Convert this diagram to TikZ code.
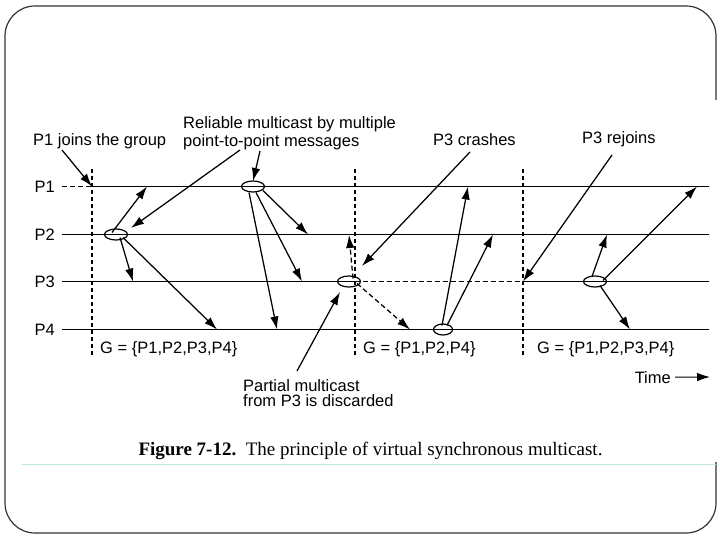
\documentclass[tikz,border=0pt]{standalone}
\usepackage{fontspec}
\setmainfont{Liberation Sans}
\newfontfamily\captionserif{Liberation Serif}
\usepackage{tikz}
\usetikzlibrary{arrows.meta, shapes.geometric, calc}
\definecolor{vsInk}{HTML}{000000}
\definecolor{vsFrame}{HTML}{333333}
\definecolor{vsRule}{HTML}{BFE6DD}
\tikzset{
  vs-proc/.style={line width=1.6pt, draw=vsInk},
  vs-proc-down/.style={line width=1.3pt, draw=vsInk, dash pattern=on 5pt off 3pt},
  vs-view/.style={line width=1.1pt, draw=vsInk, dash pattern=on 4pt off 3pt},
  vs-event/.style={
    ellipse, draw=vsInk, line width=1.2pt, minimum width=23pt,
    minimum height=11pt, inner sep=0pt
  },
  vs-msg/.style={-{Latex[length=13pt,width=8.5pt]}, line width=1.25pt, draw=vsInk},
  vs-msg-lost/.style={vs-msg, dash pattern=on 5pt off 3pt},
  vs-label/.style={font=\fontsize{16.5}{18}\selectfont, inner sep=0pt, text=vsInk},
}

\begin{document}
\begin{tikzpicture}[x=1pt, y=-1pt]
  \useasboundingbox (0,0) rectangle (720,540);

  % slide frame
  \draw[vsFrame, line width=1.2pt, rounded corners=30pt] (5,6) rectangle (716,533);
  \fill[white] (711,100) rectangle (720,462);
  \draw[vsRule, line width=1pt] (22,464) -- (716,464);

  % processes
  \foreach \i/\y in {1/186.5, 2/234.5, 3/281.5, 4/329.5} {
    \node[vs-label, anchor=east] (p\i) at (55,\y) {P\i};
    \coordinate (p\i-start) at (62,\y);
    \coordinate (p\i-end)   at (709,\y);
  }
  \coordinate (join)   at (92,186.5);
  \coordinate (crash)  at (355,281.5);
  \coordinate (rejoin) at (523,281.5);

  \draw[vs-proc-down] (p1-start) -- (join);
  \draw[vs-proc]      (join) -- (p1-end);
  \draw[vs-proc]      (p2-start) -- (p2-end);
  \draw[vs-proc]      (p3-start) -- (crash);
  \draw[vs-proc-down] (crash) -- (rejoin);
  \draw[vs-proc]      (rejoin) -- (p3-end);
  \draw[vs-proc]      (p4-start) -- (p4-end);

  % view changes
  \foreach \n/\x in {a/92, b/355, c/523} {
    \coordinate (view-\n-top) at (\x,169);
    \coordinate (view-\n-bot) at (\x,356);
    \draw[vs-view] (view-\n-top) -- (view-\n-bot);
  }

  % multicast events
  \node[vs-event]                    (m1) at (116,234.5) {};
  \node[vs-event]                    (m2) at (253,186.5) {};
  \node[vs-event]                    (m3) at (349,281.5) {};
  \node[vs-event, minimum width=19pt] (m4) at (443,329.5) {};
  \node[vs-event]                    (m5) at (595,281.5) {};

  % arrival points
  \coordinate (m1-p1) at (147,186.5);
  \coordinate (m1-p3) at (133,281.5);
  \coordinate (m1-p4) at (217,329.5);
  \coordinate (m2-p2) at (308,234.5);
  \coordinate (m2-p3) at (302,281.5);
  \coordinate (m2-p4) at (277,329.5);
  \coordinate (m3-p2) at (349,235);
  \coordinate (m3-p4) at (410,329.5);
  \coordinate (m4-p1) at (468,186.5);
  \coordinate (m4-p2) at (493,234.5);
  \coordinate (m5-p1) at (697,186.5);
  \coordinate (m5-p2) at (607,234.5);
  \coordinate (m5-p4) at (630,329.5);

  \draw[vs-msg] ($(m1)+(-4,-2)$) -- (m1-p1);
  \draw[vs-msg] ($(m1)+(4,3)$)   -- (m1-p3);
  \draw[vs-msg] ($(m1)+(7,3)$)   -- (m1-p4);
  \draw[vs-msg] ($(m2)+(10,4)$)  -- (m2-p2);
  \draw[vs-msg] ($(m2)+(3,6)$)   -- (m2-p3);
  \draw[vs-msg] ($(m2)+(-4,6)$)  -- (m2-p4);
  \draw[vs-msg-lost] ($(m3)+(4,-3)$) -- (m3-p2);
  \draw[vs-msg-lost] ($(m3)+(8,2)$)  -- (m3-p4);
  \draw[vs-msg] ($(m4)+(-1,-4)$) -- (m4-p1);
  \draw[vs-msg] ($(m4)+(4,-4)$)  -- (m4-p2);
  \draw[vs-msg] ($(m5)+(8,-1)$)  -- (m5-p1);
  \draw[vs-msg] ($(m5)+(-3,-5)$) -- (m5-p2);
  \draw[vs-msg] ($(m5)+(5,4)$)   -- (m5-p4);

  % annotations
  \node[vs-label, anchor=base west] (lbl-join) at (33,146) {P1 joins the group};
  \node[vs-label, anchor=north west, align=left] (lbl-rel) at (183,116.5)
    {Reliable multicast by multiple\\point-to-point messages};
  \node[vs-label, anchor=base west] (lbl-crash) at (433,146) {P3 crashes};
  \node[vs-label, anchor=base west] (lbl-rejoin) at (582,144) {P3 rejoins};
  \node[vs-label, anchor=north west, align=left,
        font=\fontsize{16.5}{15.5}\selectfont] (lbl-partial) at (243,379)
    {Partial multicast\\from P3 is discarded};

  \coordinate (join-from)    at (62,150);
  \coordinate (rel-from-a)   at (240,150);
  \coordinate (rel-from-b)   at (260,151);
  \coordinate (rel-to-a)     at (131,228);
  \coordinate (rel-to-b)     at (253,181);
  \coordinate (crash-from)   at (470,152);
  \coordinate (crash-to)     at (362,266);
  \coordinate (partial-from) at (297,371);
  \coordinate (partial-to)   at (340,292);
  \coordinate (rejoin-from)  at (612,155);

  \draw[vs-msg] (join-from) -- (join);
  \draw[vs-msg] (rel-from-a) -- (rel-to-a);
  \draw[vs-msg] (rel-from-b) -- (rel-to-b);
  \draw[vs-msg] (crash-from) -- (crash-to);
  \draw[vs-msg] (partial-from) -- (partial-to);
  \draw[vs-msg] (rejoin-from) -- (rejoin);

  % group views
  \node[vs-label, anchor=base west] (g1) at (100,353) {G = \{P1,P2,P3,P4\}};
  \node[vs-label, anchor=base west] (g2) at (363,353) {G = \{P1,P2,P4\}};
  \node[vs-label, anchor=base west] (g3) at (537,353) {G = \{P1,P2,P3,P4\}};

  \node[vs-label, anchor=base east] (time) at (671,383) {Time};
  \coordinate (time-end) at (710,377);
  \draw[vs-msg, line width=1pt] ($(time.east)+(4,0)$) -- (time-end);

  \node[font=\captionserif\fontsize{19}{22}\selectfont, inner sep=0pt] (caption)
    at (370.5,451) {\textbf{Figure 7-12.}\ \ The principle of virtual synchronous multicast.};
\end{tikzpicture}
\end{document}
